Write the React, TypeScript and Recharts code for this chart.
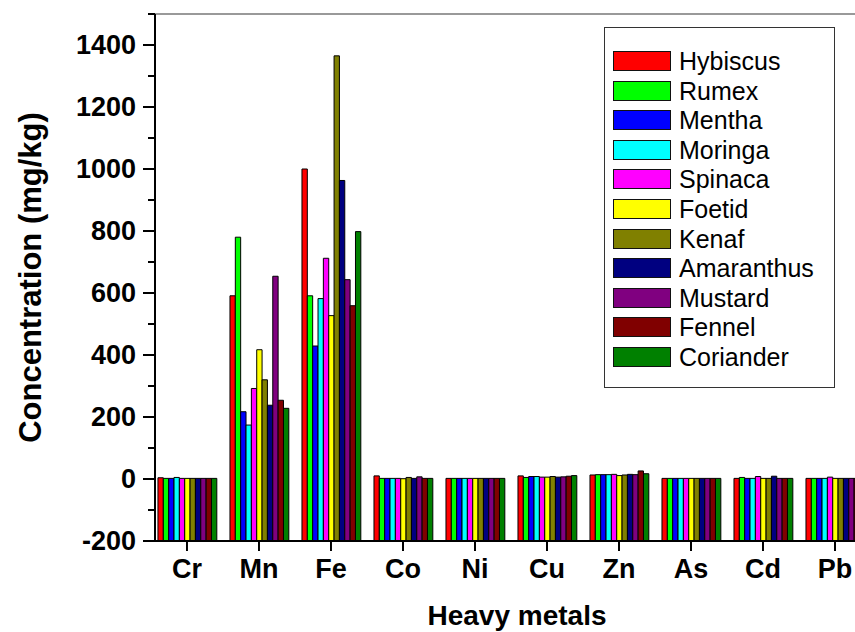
import React from 'react';
import { BarChart, Bar, XAxis, YAxis, Legend, ReferenceLine } from 'recharts';

const metals = ['Cr', 'Mn', 'Fe', 'Co', 'Ni', 'Cu', 'Zn', 'As', 'Cd', 'Pb'];
const hybiscus = [4, 591, 1000, 10, 2, 10, 13, 2, 2, 2];
const rumex = [2, 780, 591, 2, 2, 5, 14, 2, 5, 2];
const mentha = [2, 217, 429, 2, 2, 8, 14, 2, 2, 2];
const moringa = [5, 174, 582, 2, 2, 8, 14, 2, 2, 2];
const spinaca = [2, 292, 712, 2, 2, 6, 15, 2, 8, 6];
const foetid = [2, 417, 527, 1, 2, 6, 11, 2, 2, 2];
const kenaf = [2, 320, 1365, 5, 2, 8, 13, 2, 2, 2];
const amaranthus = [2, 238, 963, 2, 2, 6, 15, 2, 9, 2];
const mustard = [2, 654, 643, 7, 2, 7, 14, 2, 2, 2];
const fennel = [2, 254, 559, 2, 2, 9, 26, 2, 2, 2];
const coriander = [2, 228, 798, 2, 2, 11, 17, 2, 2, 2];

const seriesNames = ['Hybiscus', 'Rumex', 'Mentha', 'Moringa', 'Spinaca', 'Foetid', 'Kenaf', 'Amaranthus', 'Mustard', 'Fennel', 'Coriander'];
const seriesValues = [hybiscus, rumex, mentha, moringa, spinaca, foetid, kenaf, amaranthus, mustard, fennel, coriander];
const seriesColors = ['#FF0000', '#00FF00', '#0000FF', '#00FFFF', '#FF00FF', '#FFFF00', '#808000', '#000080', '#800080', '#800000', '#008000'];

const yTicks = [-200, -100, 0, 100, 200, 300, 400, 500, 600, 700, 800, 900, 1000, 1100, 1200, 1300, 1400, 1500];
const yMin = -200;
const yMax = 1500;
const xTicks = [1, 2, 3, 4, 5, 6, 7, 8, 9, 10];
const xMinorTicks = [1.5, 2.5, 3.5, 4.5, 5.5, 6.5, 7.5, 8.5, 9.5];
const xDomain = [0.556, 10.278];

const rows = metals.map((m, i) => {
  const r: any = { x: i + 1, metal: m };
  seriesNames.forEach((n, k) => { r[n] = seriesValues[k][i]; });
  return r;
});

const FONT = 'Arial, "Liberation Sans", sans-serif';

const YTick = (props: any) => {
  const { x, y, payload } = props;
  const major = payload.value % 200 === 0 && payload.value <= 1400;
  return (
    <g>
      <line x1={x - (major ? 12 : 7)} x2={x} y1={y} y2={y} stroke="#000" strokeWidth={2} />
      {major && (
        <text x={x - 19} y={y} textAnchor="end" dominantBaseline="central" fontFamily={FONT} fontWeight="bold" fontSize={27} fill="#000">
          {payload.value}
        </text>
      )}
    </g>
  );
};

const XTick = (props: any) => {
  const { x, y, payload } = props;
  return (
    <g>
      <line x1={x} x2={x} y1={y} y2={y + 10} stroke="#000" strokeWidth={2} />
      <text x={x} y={y + 37} textAnchor="middle" fontFamily={FONT} fontWeight="bold" fontSize={27} fill="#000">
        {metals[payload.value - 1]}
      </text>
    </g>
  );
};

const XMinorTick = (props: any) => {
  const { x, y } = props;
  return <line x1={x} x2={x} y1={y} y2={y + 6} stroke="#000" strokeWidth={2} />;
};

const YLabel = (props: any) => {
  const { viewBox } = props;
  const cx = 41;
  const cy = viewBox.y + viewBox.height / 2;
  return (
    <text x={cx} y={cy} transform={`rotate(-90 ${cx} ${cy})`} textAnchor="middle" fontFamily={FONT} fontWeight="bold" fontSize={31} fill="#000">
      Concentration (mg/kg)
    </text>
  );
};

const XLabel = (props: any) => {
  const { viewBox } = props;
  const cx = viewBox.x + viewBox.width / 2 + 12;
  const cy = viewBox.y + 84;
  return (
    <text x={cx} y={cy} textAnchor="middle" fontFamily={FONT} fontWeight="bold" fontSize={28} fill="#000">
      Heavy metals
    </text>
  );
};

const LegendBox = (props: any) => {
  const payload = [...(props.payload || [])].sort(
    (a: any, b: any) => seriesNames.indexOf(a.value) - seriesNames.indexOf(b.value)
  );
  return (
    <div style={{ position: 'relative', width: 231, height: 361, border: '1px solid #333', boxSizing: 'border-box', background: '#fff' }}>
      {payload.map((p: any, i: number) => (
        <div key={p.value} style={{ position: 'absolute', left: 8, top: 23 + i * 29.6, height: 20, display: 'flex', alignItems: 'center' }}>
          <div style={{ width: 58, height: 20, background: p.color, border: '1.5px solid #111', boxSizing: 'border-box' }} />
          <span style={{ marginLeft: 8, fontFamily: FONT, fontSize: 25, color: '#000', lineHeight: '20px', whiteSpace: 'nowrap' }}>{p.value}</span>
        </div>
      ))}
    </div>
  );
};

export default function App() {
  return (
    <div style={{ position: 'absolute', left: 0, top: 0, width: 855, height: 632, background: '#fff' }}>
      <BarChart width={855} height={632} data={rows} margin={{ top: 14, right: 0, bottom: 0, left: 0 }} barGap={0}>
        <XAxis
          xAxisId="minor"
          type="number"
          dataKey="x"
          domain={xDomain}
          allowDataOverflow
          ticks={xMinorTicks}
          height={0}
          axisLine={false}
          tickLine={false}
          tickSize={0}
          tickMargin={0}
          tick={<XMinorTick />}
          interval={0}
        />
        <XAxis
          type="number"
          dataKey="x"
          domain={xDomain}
          allowDataOverflow
          ticks={xTicks}
          height={91}
          axisLine={{ stroke: '#000', strokeWidth: 2 }}
          tickLine={false}
          tickSize={0}
          tickMargin={0}
          tick={<XTick />}
          interval={0}
          label={<XLabel />}
        />
        <YAxis
          type="number"
          domain={[yMin, yMax]}
          allowDataOverflow
          ticks={yTicks}
          width={155}
          axisLine={{ stroke: '#000', strokeWidth: 2 }}
          tickLine={false}
          tickSize={0}
          tickMargin={0}
          tick={<YTick />}
          interval={0}
          label={<YLabel />}
        />
        <ReferenceLine y={yMax} stroke="#777" strokeWidth={1.5} ifOverflow="visible" />
        {seriesNames.map((n, k) => (
          <Bar
            key={n}
            name={n}
            dataKey={(d: any) => [yMin, d[n]]}
            fill={seriesColors[k]}
            stroke="#000"
            strokeWidth={1}
            barSize={5.35}
            isAnimationActive={false}
          />
        ))}
        <Legend
          layout="vertical"
          align="center"
          verticalAlign="middle"
          content={<LegendBox />}
          wrapperStyle={{ position: 'absolute', left: 604, top: 27, width: 231, height: 361, right: 'auto', bottom: 'auto' }}
        />
      </BarChart>
    </div>
  );
}
